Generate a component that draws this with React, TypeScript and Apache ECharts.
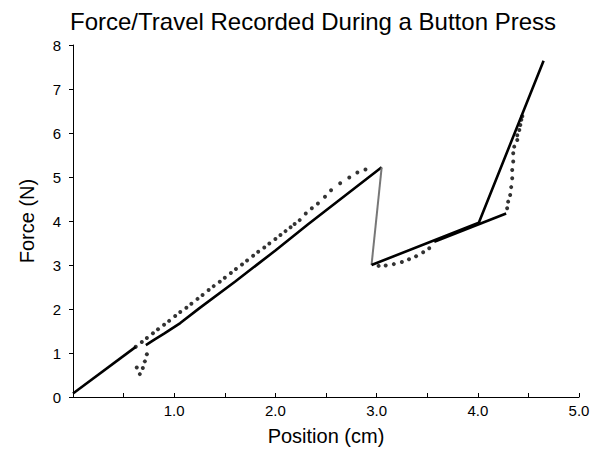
import React, { useEffect, useRef } from "react";
import * as echarts from "echarts";

// Force (N) against position (cm) during a single button press and release.

// Press: travel from rest up to the tactile snap point.
const pressStart: number[][] = [
  [0, 0.08],
  [0.62, 1.14],
];
const pressRamp: number[][] = [
  [0.72, 1.18],
  [0.8, 1.3],
  [0.9, 1.44],
  [1.06, 1.68],
  [1.25, 2.02],
  [1.6, 2.62],
  [2.0, 3.33],
  [2.32, 3.92],
  [3.05, 5.22],
];
// Snap: force collapses once the dome buckles.
const snapDrop: number[][] = [
  [3.05, 5.22],
  [2.95, 3.0],
];
// Post-snap travel and bottoming out.
const bottomOut: number[][] = [
  [2.95, 3.0],
  [4.01, 3.96],
  [4.65, 7.64],
];
// Release: dense section on the way back.
const releaseLine: number[][] = [
  [4.28, 4.17],
  [3.57, 3.53],
];

// Release samples recorded as individual readings.
const releaseSteep: number[][] = [
  [4.44, 6.38],
  [4.43, 6.3],
  [4.42, 6.18],
  [4.41, 6.07],
  [4.39, 5.95],
  [4.39, 5.84],
  [4.36, 5.69],
  [4.35, 5.54],
  [4.35, 5.35],
  [4.34, 5.16],
  [4.34, 4.97],
  [4.33, 4.77],
  [4.32, 4.59],
  [4.3, 4.44],
  [4.29, 4.29],
];
const releaseCurve: number[][] = [
  [3.52, 3.38],
  [3.46, 3.29],
  [3.39, 3.2],
  [3.32, 3.13],
  [3.25, 3.07],
  [3.17, 3.02],
  [3.09, 2.99],
  [3.02, 2.98],
];
const releaseReturn: number[][] = [
  [2.89, 5.17],
  [2.81, 5.1],
  [2.73, 4.99],
  [2.64, 4.86],
  [2.55, 4.7],
  [2.49, 4.55],
  [2.42, 4.4],
  [2.36, 4.29],
  [2.3, 4.17],
  [2.24, 4.02],
  [2.19, 3.93],
  [2.15, 3.86],
  [2.1, 3.77],
  [2.05, 3.68],
  [2.0, 3.59],
  [1.94, 3.49],
  [1.89, 3.4],
  [1.83, 3.3],
  [1.78, 3.21],
  [1.72, 3.1],
  [1.67, 3.01],
  [1.61, 2.91],
  [1.56, 2.82],
  [1.5, 2.71],
  [1.45, 2.62],
  [1.39, 2.52],
  [1.34, 2.43],
  [1.28, 2.32],
  [1.23, 2.23],
  [1.17, 2.12],
  [1.12, 2.03],
  [1.06, 1.93],
  [1.01, 1.84],
  [0.95, 1.73],
  [0.9, 1.64],
  [0.84, 1.54],
  [0.79, 1.45],
  [0.73, 1.34],
  [0.68, 1.25],
  [0.62, 1.14],
];
const releaseTail: number[][] = [
  [0.63, 0.67],
  [0.66, 0.52],
  [0.69, 0.66],
  [0.71, 0.81],
  [0.73, 0.97],
];

const FONT = "'Liberation Sans', Arial, Helvetica, sans-serif";

const solid = (data: number[][], color = "#000", width = 2.6) => ({
  type: "line" as const,
  data,
  symbol: "none",
  lineStyle: { color, width },
  silent: true,
});

const dots = (data: number[][]) => ({
  type: "scatter" as const,
  data,
  symbol: "circle",
  symbolSize: 4,
  itemStyle: { color: "#000" },
  silent: true,
});

export default function App() {
  const ref = useRef<HTMLDivElement>(null);

  useEffect(() => {
    if (!ref.current) return;
    const chart = echarts.init(ref.current, undefined, { renderer: "svg" });
    chart.setOption({
      animation: false,
      backgroundColor: "#fff",
      title: {
        text: "Force/Travel Recorded During a Button Press",
        left: 308,
        top: 4,
        textAlign: "center",
        textStyle: { fontFamily: FONT, fontSize: 24, fontWeight: "normal", color: "#000" },
      },
      grid: { left: 73, right: 16, top: 45, bottom: 62 },
      xAxis: {
        type: "value",
        min: 0,
        max: 5,
        interval: 0.5,
        name: "Position (cm)",
        nameLocation: "middle",
        nameGap: 29,
        nameTextStyle: { fontFamily: FONT, fontSize: 20, color: "#000" },
        axisLine: { show: true, lineStyle: { color: "#000", width: 1 } },
        axisTick: { show: true, inside: true, length: 4, lineStyle: { color: "#000" } },
        splitLine: { show: false },
        axisLabel: {
          fontFamily: FONT,
          fontSize: 15,
          color: "#000",
          margin: 6,
          formatter: (v: number) => (v > 0 && Math.abs(v - Math.round(v)) < 1e-9 ? v.toFixed(1) : ""),
        },
      },
      yAxis: {
        type: "value",
        min: 0,
        max: 8,
        interval: 1,
        name: "Force (N)",
        nameLocation: "middle",
        nameGap: 36,
        nameTextStyle: { fontFamily: FONT, fontSize: 20, color: "#000" },
        axisLine: { show: true, lineStyle: { color: "#000", width: 1 } },
        axisTick: { show: true, inside: false, length: 4, lineStyle: { color: "#000" } },
        splitLine: { show: false },
        axisLabel: { fontFamily: FONT, fontSize: 15, color: "#000", margin: 12 },
      },
      series: [
        solid(pressStart),
        solid(pressRamp),
        solid(snapDrop, "#777", 2),
        solid(bottomOut),
        solid(releaseLine),
        dots(releaseSteep),
        dots(releaseCurve),
        dots(releaseReturn),
        dots(releaseTail),
      ],
    });
    return () => chart.dispose();
  }, []);

  return (
    <div
      ref={ref}
      style={{ position: "absolute", left: 0, top: 0, width: 595, height: 459 }}
    />
  );
}
